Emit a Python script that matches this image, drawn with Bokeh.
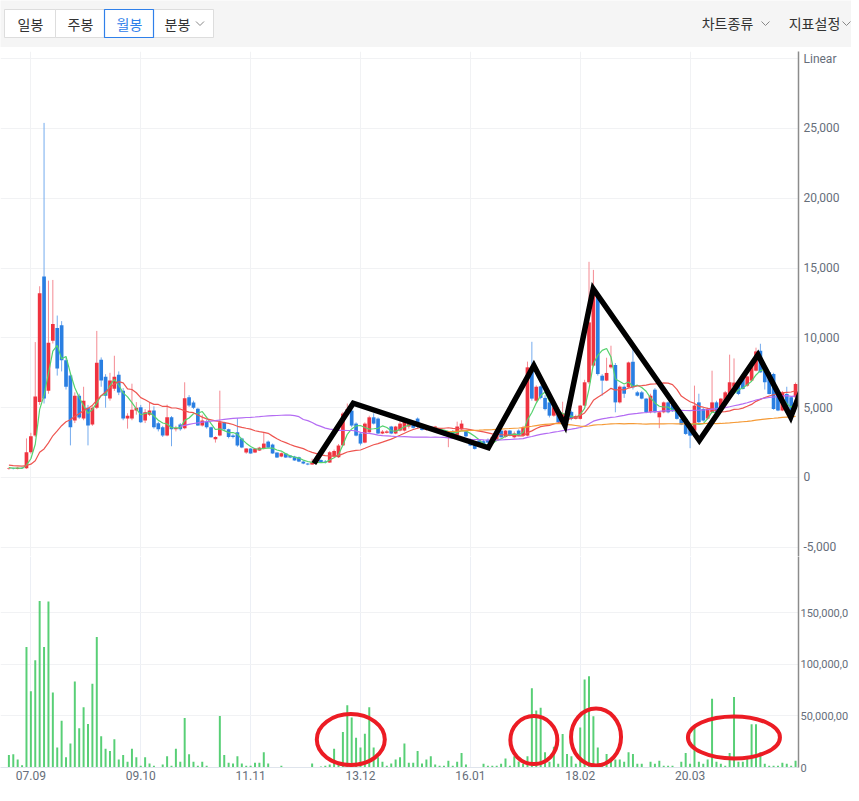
import math
from bokeh.plotting import figure
from bokeh.layouts import column
from bokeh.models import Range1d, FixedTicker, NumeralTickFormatter
from bokeh.embed import file_html
from bokeh.resources import INLINE
from bokeh.core.properties import value

# ---------------- data: monthly candles, index 0 = 2007-04 ... 179 = 2022-03 ----------------
opens = [600, 650, 600, 700, 660, 1800, 3000, 5400, 14400, 6220,
         9800, 10700, 10900, 8400, 7300, 4080, 5850, 4220, 5000, 3790,
         5000, 8440, 7220, 5650, 6360, 7360, 6220, 4220, 4220, 4800,
         5030, 4080, 4500, 4790, 3890, 3600, 3000, 4310, 3450, 3800,
         3530, 5740, 5370, 4930, 3720, 4000, 3600, 2740, 3000, 3960,
         3460, 3000, 3240, 2790, 1790, 2070, 1790, 1930, 2070, 2570,
         2360, 1790, 1500, 1720, 1570, 1500, 1450, 1140, 1000, 930,
         1100, 1250, 1150, 1070, 1500, 1450, 2300, 4600, 4790, 3860,
         3150, 2500, 3240, 4310, 4220, 3150, 3200, 3650, 3150, 3360,
         3360, 3650, 3860, 4220, 3650, 3400, 3650, 3360, 3450, 3300,
         2950, 3300, 3050, 3450, 3300, 2650, 2520, 2650, 2600, 2700,
         2520, 2650, 3360, 2900, 3360, 2880, 3360, 3000, 3000, 7650,
         5500, 6530, 5700, 5380, 4430, 4670, 3960, 4790, 4700, 4200,
         4200, 5150, 6820, 8010, 13010, 7290, 6940, 7890, 8060, 5380,
         6500, 6460, 8290, 6100, 6100, 5650, 4670, 6290, 4310, 4670,
         5380, 5200, 4910, 4200, 4200, 3480, 3360, 5380, 4910, 4220,
         4670, 5380, 4910, 5270, 5860, 6500, 6580, 7060, 6580, 6940,
         7650, 9080, 7650, 7530, 7410, 6100, 4790, 5980, 5740, 5740]
highs = [720, 700, 760, 740, 2800, 3200, 9700, 13700, 25400, 14100,
         14150, 11600, 11200, 8600, 7500, 6100, 6000, 6500, 5200, 5100,
         10500, 8600, 7400, 7500, 8720, 7600, 6400, 4600, 6720, 5400,
         5200, 4900, 5400, 5100, 4000, 3700, 5220, 4400, 3700, 3900,
         6820, 5900, 5500, 5000, 4500, 4150, 3650, 2950, 6220, 4000,
         3500, 3100, 4250, 2850, 2100, 2100, 2100, 2200, 3220, 2650,
         2430, 1800, 1800, 1760, 1600, 1550, 1500, 1200, 1050, 1350,
         1300, 1300, 1250, 1900, 2000, 2400, 4700, 5300, 4900, 3950,
         3250, 3950, 4430, 4600, 4300, 3400, 3400, 3700, 3700, 4200,
         4200, 3900, 4000, 4300, 3700, 3700, 3700, 3700, 3550, 3400,
         3200, 3400, 4000, 4100, 3400, 2800, 2600, 2700, 2700, 2800,
         3000, 3300, 3400, 3400, 3400, 3300, 3450, 3700, 8300, 9720,
         6600, 6600, 5900, 5450, 5100, 4800, 5430, 4900, 4800, 4500,
         5200, 7000, 15450, 14870, 13200, 7400, 8580, 9440, 8200, 6600,
         6600, 8300, 9250, 6200, 6200, 5700, 6000, 6400, 4700, 5450,
         5450, 5300, 5000, 4300, 4300, 3550, 6580, 6000, 5000, 5000,
         7650, 5500, 5700, 6200, 8800, 8530, 6700, 7200, 7300, 8200,
         9300, 9580, 7700, 7600, 7500, 6200, 6200, 6500, 5800, 6800]
lows = [560, 580, 580, 620, 620, 1700, 2900, 5200, 5300, 6000,
        9600, 7300, 7600, 6300, 2300, 3900, 4200, 4100, 2300, 3700,
        4900, 6500, 5000, 5500, 6200, 5900, 4100, 3500, 4100, 4500,
        3900, 3900, 4400, 3500, 3300, 2900, 2950, 2240, 3300, 3350,
        3450, 5050, 4900, 3700, 3650, 3500, 2850, 2500, 2950, 3350,
        2800, 2800, 2200, 2100, 1700, 1700, 1750, 1900, 2000, 2100,
        1700, 1400, 1450, 1400, 1380, 1200, 1100, 950, 880, 900,
        1000, 1050, 1000, 1050, 1450, 1400, 2250, 4500, 3600, 2950,
        2300, 2450, 3200, 3800, 3100, 3100, 3150, 3100, 3100, 3300,
        3300, 3500, 3500, 3500, 3360, 3350, 3400, 3300, 3150, 3000,
        2170, 3000, 3000, 3400, 2900, 2250, 2000, 2300, 2350, 2450,
        2500, 2600, 2850, 2850, 2950, 2800, 2950, 2950, 2950, 5500,
        5400, 5600, 4800, 4300, 4350, 3900, 3900, 4150, 4100, 4150,
        4150, 5100, 6700, 7900, 7300, 5860, 6900, 7800, 4670, 5300,
        5700, 6400, 6300, 5800, 5600, 4600, 4600, 4600, 3530, 4600,
        4600, 4700, 4150, 3750, 3050, 2100, 3300, 3900, 4000, 4150,
        4600, 4600, 4850, 5200, 5800, 6400, 5900, 6300, 6500, 6900,
        7600, 7500, 6300, 5950, 4850, 4750, 4750, 4650, 4650, 5700]
closes = [650, 600, 700, 660, 1800, 2950, 5800, 13200, 5650, 9650,
          11000, 7800, 8400, 6500, 3600, 5850, 4300, 5500, 3720, 5000,
          8220, 6940, 5860, 6940, 7220, 6080, 4220, 4430, 4860, 5000,
          3960, 4670, 4800, 3600, 3460, 3000, 4310, 3460, 3550, 3460,
          5670, 5150, 5000, 3720, 4080, 3600, 2880, 2900, 3960, 3460,
          2900, 2900, 2290, 2140, 2070, 1720, 2070, 2140, 2430, 2140,
          1720, 1430, 1740, 1430, 1430, 1220, 1140, 1000, 930, 1100,
          1200, 1100, 1080, 1810, 1900, 2290, 4580, 4900, 3720, 3000,
          2430, 3860, 4310, 3860, 3150, 3290, 3300, 3150, 3650, 3860,
          4220, 3860, 3560, 3650, 3400, 3650, 3450, 3650, 3200, 3050,
          3150, 3050, 3650, 3860, 2950, 2290, 2050, 2350, 2400, 2500,
          2880, 3150, 2880, 3360, 3000, 3150, 3000, 3600, 7890, 5650,
          6500, 5700, 4900, 4430, 5030, 3960, 4600, 4220, 4200, 4400,
          5150, 6820, 11110, 13250, 7410, 6940, 7490, 8080, 5380, 6510,
          6000, 8240, 6460, 5860, 5650, 4670, 5860, 4670, 4670, 5380,
          4670, 4750, 4200, 3790, 3120, 3000, 5150, 3960, 4080, 4910,
          5380, 4670, 5650, 6100, 6820, 6800, 5980, 6340, 7240, 8130,
          9030, 7530, 6820, 5980, 4910, 4790, 6100, 4670, 4670, 6700]
# trading volume, millions of shares
volumes_m = [12.2, 12.8, 7.8, 2.2, 117, 74, 104, 161.5, 117, 161,
             72.8, 19.4, 45.3, 10, 23.4, 83.4, 38, 58.4, 42.2, 81.3,
             126.6, 30.3, 18.1, 15.9, 27.5, 7.8, 12.2, 5.6, 18.1, 10,
             1.6, 10, 3.8, 1.6, 0.6, 2.8, 10.9, 1.6, 18.1, 5.6,
             48, 12.8, 5.6, 1.6, 5.6, 1.6, 0.6, 0.6, 50, 12.2,
             4.7, 3.8, 10.9, 3.8, 1.6, 1.6, 4.7, 4.7, 14.7, 3.8,
             0.6, 0.2, 1.6, 0.6, 0.3, 0.6, 0.3, 0.2, 0.2, 3.8,
             0.2, 1.0, 1.6, 2.8, 18.1, 3.8, 34.4, 60.3, 48.4, 28.8,
             19.4, 32.8, 58.4, 19.4, 10, 5.6, 1.6, 3.8, 7.8, 10,
             23.4, 4.7, 4.7, 15.9, 3.8, 7.8, 10.9, 2.8, 1.6, 1.6,
             6.5, 1.6, 5.6, 14, 2.8, 0.1, 0.1, 0.1, 3.7, 1.6,
             1.6, 1.6, 3.7, 8.7, 1.6, 10.9, 5.9, 3.7, 10.9, 77,
             55.3, 58, 14.9, 5.6, 20.2, 3.7, 32.6, 13, 10.9, 3.7,
             38.8, 85.4, 88.5, 49.7, 19.3, 3.7, 13, 7.8, 7.8, 7.8,
             5.6, 14.9, 13, 3.7, 3.7, 0.1, 5.6, 3.7, 6.5, 1.6,
             1.6, 1.6, 0.1, 5.6, 14, 3.7, 40.4, 5.6, 3.7, 7.8,
             66.8, 5.6, 3.7, 1.6, 14, 68.3, 5.6, 5.6, 9.3, 41.9,
             41.9, 14.9, 3.7, 1.6, 1.6, 1.6, 4.7, 3.7, 1.6, 6.5]
# closes of the 20 months before the visible window (off-screen; estimated from where the MAs start)
pre_closes = [1100, 1150, 1050, 1000, 1080, 1000, 950, 980, 900, 920,
              880, 850, 900, 870, 820, 800, 760, 720, 700, 680]

ma_windows = [5, 20, 60, 120]

xtick_idx = [5, 30, 55, 80, 105, 130, 155]
xtick_labels = ["07.09", "09.10", "11.11", "13.12", "16.01", "18.02", "20.03"]
price_ticks = [-5000, 0, 5000, 10000, 15000, 20000, 25000, 30000]
price_tick_labels = ["-5,000", "0", "5,000", "10,000", "15,000", "20,000", "25,000", "Linear"]
vol_ticks = [0, 50, 100, 150]
vol_tick_labels = ["0", "50,000,00", "100,000,0", "150,000,0"]

# hand-drawn annotation: zigzag (month index, price) and circled volume clusters (month index, volume M)
zigzag_idx = [69.4, 78.35, 109.1, 119.45, 126.55, 132.95, 157.1, 170.45, 177.9, 181.5]
zigzag_price = [1000, 5320, 2130, 8020, 3730, 13520, 2650, 8790, 4330, 7240]
circle_idx = [77.8, 119.45, 133.6, 164.98]
circle_vol = [27.1, 26.6, 29.6, 29.2]

# header controls
tab_labels = ["일봉", "주봉", "월봉", "분봉"]
menu_labels = ["차트종류", "지표설정"]

# ---------------- styles / layout ----------------
UP, UP_WICK = "#ef3340", "#f48a92"
DN, DN_WICK = "#2a7fe2", "#74abee"
MA_COLORS = ["#55d26e", "#ee5550", "#b46cf3", "#f59a36"]
VOL_COLOR = "#58cf76"
AXIS_TEXT = "#666e7a"
GRID = "#f1f2f4"
W = 851
RIGHT = 50
FRAME_W = W - RIGHT
NUM_FONT = "Roboto"
KR_FONT = "Noto Sans CJK KR"

n = len(closes)
idx = list(range(n))
x_range = Range1d(-1.91, 179.67)

# moving averages
full = pre_closes + closes
off = len(pre_closes)
mas = []
for w in ma_windows:
    vals = []
    for k in range(n):
        j = k + off
        if j + 1 >= w:
            vals.append(sum(full[j - w + 1:j + 1]) / w)
        else:
            vals.append(float("nan"))
    mas.append(vals)

up = [c >= o for o, c in zip(opens, closes)]
body_top = [max(o, c) for o, c in zip(opens, closes)]
body_bot = [min(o, c) for o, c in zip(opens, closes)]
body_col = [UP if u else DN for u in up]
wick_col = [UP_WICK if u else DN_WICK for u in up]


def style_axis(ax, size, standoff):
    ax.major_tick_line_color = None
    ax.minor_tick_line_color = None
    ax.major_tick_out = 0
    ax.major_tick_in = 0
    ax.minor_tick_out = 0
    ax.minor_tick_in = 0
    ax.major_label_standoff = standoff
    ax.major_label_text_font = NUM_FONT
    ax.major_label_text_font_size = size
    ax.major_label_text_color = AXIS_TEXT


# ---------------- header ----------------
hdr = figure(width=W, height=47, x_range=Range1d(0, W), y_range=Range1d(47, 0),
             toolbar_location=None, output_backend="svg", x_axis_location=None,
             y_axis_location=None, min_border=0, background_fill_color="#f5f5f5",
             border_fill_color="#f5f5f5", outline_line_color=None)
can_free = "frame_align" in hdr.properties()
if can_free:
    hdr.frame_align = False      # header spans the full width, not the chart frames
else:
    hdr.x_range = Range1d(0, W * FRAME_W / W)
hdr.grid.visible = False
tab_left = [4, 55, 104, 153]
tab_right = [55, 104, 153, 213]
hdr.quad(left=tab_left, right=tab_right, top=9, bottom=37, fill_color="white",
         line_color="#dddddd", line_width=1)
hdr.quad(left=[tab_left[2]], right=[tab_right[2]], top=9, bottom=37, fill_color="white",
         line_color="#2f80ea", line_width=1.2)
hdr.text(x=[30, 80, 129, 177], y=[23.5] * 4, text=tab_labels,
         text_color=["#333333", "#333333", "#2f80ea", "#333333"],
         text_font=value(KR_FONT), text_font_size="14px", text_align="center",
         text_baseline="middle")
menu_x = [727, 814] if can_free else [700, 755]
hdr.text(x=menu_x, y=[22.5, 22.5], text=menu_labels, text_color="#333333",
         text_font=value(KR_FONT), text_font_size="14px", text_align="center",
         text_baseline="middle")
chev_x = [199.5, menu_x[0] + 38, menu_x[1] + 32]
hdr.multi_line(xs=[[c - 4, c, c + 4] for c in chev_x], ys=[[21, 25, 21]] * 3,
               line_color="#888888", line_width=1)

# ---------------- price pane ----------------
p = figure(width=W, height=509, x_range=x_range, y_range=Range1d(-5659, 30514),
           toolbar_location=None, output_backend="svg", x_axis_location=None,
           y_axis_location="right", min_border_left=0, min_border_right=RIGHT,
           min_border_top=4, min_border_bottom=0, outline_line_color=None,
           background_fill_color="white", border_fill_color="white")
p.yaxis.ticker = FixedTicker(ticks=price_ticks)
p.yaxis.formatter = NumeralTickFormatter(format="0,0")
p.yaxis.major_label_overrides = dict(zip(price_ticks, price_tick_labels))
style_axis(p.yaxis[0], "12px", 5)
p.yaxis.axis_line_color = "#8c8c8c"
p.yaxis.axis_line_width = 1.5
p.ygrid.ticker = FixedTicker(ticks=price_ticks)
p.xgrid.ticker = FixedTicker(ticks=xtick_idx)
p.grid.grid_line_color = GRID

p.segment(x0=idx, y0=lows, x1=idx, y1=highs, line_color=wick_col, line_width=1)
p.vbar(x=idx, bottom=body_bot, top=body_top, width=0.84, fill_color=body_col,
       line_color=None)
for vals, col in zip(mas, MA_COLORS):
    p.line(idx, vals, line_color=col, line_width=1.2)
p.line(zigzag_idx, zigzag_price, line_color="black", line_width=5.5, line_join="miter")

# ---------------- volume pane ----------------
v = figure(width=W, height=228, x_range=x_range, y_range=Range1d(0, 204.7),
           toolbar_location=None, output_backend="svg", x_axis_location="below",
           y_axis_location="right", min_border_left=0, min_border_right=RIGHT,
           min_border_top=0, min_border_bottom=17, outline_line_color=None,
           background_fill_color="white", border_fill_color="white")
v.yaxis.ticker = FixedTicker(ticks=vol_ticks)
v.yaxis.major_label_overrides = dict(zip(vol_ticks, vol_tick_labels))
style_axis(v.yaxis[0], "11px", 2)
v.yaxis.axis_line_color = "#8c8c8c"
v.yaxis.axis_line_width = 1.5
v.xaxis.ticker = FixedTicker(ticks=xtick_idx)
v.xaxis.major_label_overrides = dict(zip(xtick_idx, xtick_labels))
style_axis(v.xaxis[0], "12px", 3)
v.xaxis.axis_line_color = "#dfe4ec"
v.ygrid.ticker = FixedTicker(ticks=vol_ticks[1:])
v.xgrid.ticker = FixedTicker(ticks=xtick_idx)
v.ygrid.grid_line_color = GRID
v.xgrid.grid_line_color = "#eceff5"

v.vbar(x=idx, bottom=0, top=volumes_m, width=0.45, fill_color=VOL_COLOR, line_color=None)
v.ellipse(x=circle_idx, y=circle_vol, width=[68, 47, 50, 92], height=[51, 48, 57, 42],
          width_units="screen", height_units="screen", fill_color=None,
          line_color="#ec1c24", line_width=4)

layout = column(hdr, p, v)
open("out.html", "w").write(file_html(layout, INLINE))
